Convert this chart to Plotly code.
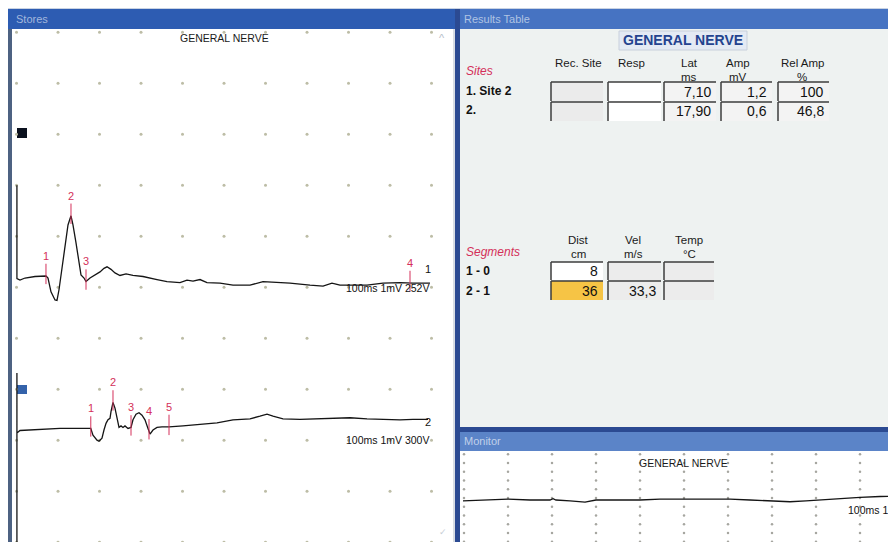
import numpy as np
import plotly.graph_objects as go

# page is 896x542; the html body has an 8 px margin, so the figure fills 8..896 x 8..542
PAGE_OFF = 8
W, H = 888, 534

# ------------------------------------------------------------------ data
TITLE = "GENERAL NERVE"

# Stores channel 1 (time ms, amplitude mV relative to baseline)
CH1_T = [0.1, 0.1, 0.84, 2.05, 4.46, 6.39, 7.11, 7.59, 8.31, 9.28, 9.76, 10.24, 10.96,
         11.69, 12.41, 13.13, 13.61, 14.34, 15.06, 15.54, 16.27, 16.75, 17.71, 18.92,
         20.12, 21.08, 21.81, 22.77, 23.73, 24.94, 26.39, 28.07, 30.48, 33.86, 36.27,
         39.40, 41.08, 42.53, 44.22, 45.90, 49.04, 52.17, 56.27, 59.40, 61.81, 65.90,
         70.72, 73.86, 76.02, 77.95, 81.08, 84.46, 88.31, 92.41, 95.54, 99.64]
CH1_MV = [1.80, -0.03, -0.06, -0.02, 0.01, 0.02, 0.02, -0.02, -0.29, -0.45, -0.46, -0.25,
          0.20, 0.67, 1.02, 1.20, 1.02, 0.67, 0.27, 0.04, -0.02, -0.09, -0.02, 0.04,
          0.10, 0.17, 0.20, 0.15, 0.08, 0.03, 0.06, 0.03, 0.01, -0.05, -0.09,
          -0.11, -0.06, -0.08, -0.05, -0.11, -0.12, -0.16, -0.16, -0.09, -0.10, -0.12,
          -0.16, -0.18, -0.12, -0.16, -0.16, -0.16, -0.12, -0.11, -0.12, -0.12]
CH1_MARKERS = [7.10, 13.13, 16.75, 94.82]

# Stores channel 2
CH2_T = [0.1, 0.1, 0.1, 0.84, 5.66, 10.48, 15.30, 17.90, 18.43, 19.40, 19.88, 20.60,
         21.08, 21.57, 22.05, 22.53, 22.77, 23.25, 23.73, 24.22, 24.70, 25.18, 25.66,
         26.14, 26.87, 27.59, 28.07, 28.80, 29.52, 30.24, 30.96, 31.69, 32.17, 32.89,
         33.86, 35.06, 36.75, 40.12, 44.22, 48.31, 52.17, 54.58, 56.27, 58.67, 60.36,
         61.81, 64.22, 68.31, 76.27, 80.36, 84.46, 88.31, 92.41, 95.54, 99.16]
CH2_MV = [1.12, -2.40, -0.06, -0.01, 0.01, 0.03, 0.03, 0.03, -0.10, -0.20, -0.22, -0.16,
          0.00, 0.13, 0.20, 0.23, 0.36, 0.54, 0.43, 0.20, 0.05, 0.08, 0.05,
          0.08, 0.03, 0.05, 0.20, 0.31, 0.34, 0.29, 0.20, 0.03, -0.08, 0.00,
          0.05, 0.06, 0.06, 0.08, 0.11, 0.14, 0.20, 0.21, 0.22, 0.27, 0.31,
          0.27, 0.22, 0.21, 0.23, 0.24, 0.22, 0.21, 0.20, 0.21, 0.21]
CH2_MARKERS = [17.90, 23.25, 27.59, 31.93, 36.75]

CH1_LABEL = "100ms 1mV 252V"
CH2_LABEL = "100ms 1mV 300V"

# Monitor
MON_T = [-0.23, 5.91, 10.0, 15.0, 19.55, 20.23, 20.9, 24.09, 27.5, 30.0, 35.45, 40.0,
         44.55, 53.64, 60.45, 65.0, 69.55, 74.09, 77.73, 83.18, 90.0, 94.55, 98.18]
MON_MV = [-0.02, 0.00, 0.02, 0.00, 0.00, 0.03, 0.00, -0.02, -0.05, 0.00, 0.00, 0.00,
          0.02, 0.02, 0.02, 0.00, -0.02, -0.04, -0.02, 0.02, 0.06, 0.08, 0.09]
MON_LABEL = "100ms 1m"   # visible part; the window cuts it at the right edge

# Results table
SITE_HEADERS = [("Rec. Site", ""), ("Resp", ""), ("Lat", "ms"), ("Amp", "mV"), ("Rel Amp", "%")]
SITE_LABELS = ["1. Site 2", "2."]
LAT_MS = [7.10, 17.90]
AMP_MV = [1.2, 0.6]
REL_AMP = [100, 46.8]
SEG_HEADERS = [("Dist", "cm"), ("Vel", "m/s"), ("Temp", "°C")]
SEG_LABELS = ["1 - 0", "2 - 1"]
DIST_CM = [8, 36]
VEL_MS = [None, 33.3]
TEMP_C = [None, None]

# ------------------------------------------------------------------ style / layout constants
FONT = "Liberation Sans, Arial, sans-serif"
RED = "#d4305a"
TRACE = "#151515"
DOT = "#bdbda6"
BAR_DARK = "#2d5cb2"
BAR_LIGHT = "#4673c2"
BORDER = "#2b4a92"
PANEL = "#eef2f1"

S_X0_PX, S_PX_PER_MS = 16.5, 4.15       # stores time axis (page px)
S_PX_PER_MV = 51.0
CH1_BASE_PX, CH2_BASE_PX = 277, 430
M_X0_PX, M_PX_PER_MS = 464, 4.4         # monitor time axis
M_BASE_PX, M_PX_PER_MV = 500, 43.75


def fx(x):
    return (x - PAGE_OFF) / W


def fy(y):
    return 1 - (y - PAGE_OFF) / H


shapes = []
annotations = []


def rect(x0, y0, x1, y1, fill, line=None, lw=0):
    shapes.append(dict(type="rect", xref="paper", yref="paper", x0=fx(x0), x1=fx(x1),
                       y0=fy(y1), y1=fy(y0), fillcolor=fill, layer="below",
                       line=dict(color=line or fill, width=lw)))


def seg(x0, y0, x1, y1, color, w=1.5):
    shapes.append(dict(type="line", xref="paper", yref="paper", x0=fx(x0), x1=fx(x1),
                       y0=fy(y0), y1=fy(y1), layer="below", line=dict(color=color, width=w)))


def text(x, y, s, size=12, color="#111", xanchor="center", bold=False, italic=False):
    if bold:
        s = "<b>" + s + "</b>"
    if italic:
        s = "<i>" + s + "</i>"
    annotations.append(dict(x=fx(x), y=fy(y), xref="paper", yref="paper", text=s,
                            showarrow=False, xanchor=xanchor, yanchor="middle",
                            font=dict(family=FONT, size=size, color=color)))


def fmt(v, d):
    if v is None:
        return ""
    if d is None:
        d = 0 if float(v).is_integer() else 1
    return f"{v:.{d}f}".replace(".", ",")


# ---- window chrome
rect(8, 8, 896, 9, "#c9d3e3")
rect(8, 9, 456, 29, BAR_DARK)                 # Stores title bar
rect(8, 29, 12, 542, "#4d6282")               # Stores left border
rect(12, 29, 453, 542, "#ffffff")             # Stores plot
rect(453, 29, 455, 542, "#d8dde4")
rect(455, 9, 460, 542, BORDER)                # separator
rect(460, 9, 896, 29, BAR_LIGHT)              # Results title bar
rect(460, 29, 896, 427, PANEL)                # Results body
rect(455, 427, 896, 432, BORDER)
rect(460, 432, 896, 451, "#5b84c8")           # Monitor title bar
rect(462, 451, 896, 542, "#ffffff")           # Monitor plot

text(14, 19, "Stores", 11, "#a3b7dc", "left")
text(462, 19, "Results Table", 11, "#b0c3e3", "left")
text(462, 441, "Monitor", 11, "#c0d0ea", "left")
text(442, 38, "^", 11, "#b5bcc8")
text(443, 532, "✓", 9, "#c8ced6")

# channel squares
rect(17, 128, 27, 138, "#0b111e")
rect(17, 385, 27, 394, "#3462aa")

text(224, 38, TITLE, 10.5, "#1a1a1a")
text(683, 463, TITLE, 10.5, "#1a1a1a")

# ---- results table
rect(619, 31, 747, 50, "#e4eaf4", "#c8d0dc", 1)
text(683, 40, TITLE, 14, "#24438f", bold=True)

HDR_X = [578, 631, 689, 738, 802]
for (h1, h2), hx in zip(SITE_HEADERS, HDR_X):
    text(hx, 63.5, h1, 11.5, "#1a1a1a")
    if h2:
        text(hx, 76.5, h2, 11.5, "#1a1a1a")
text(464, 71, "Sites", 12, RED, "left", italic=True)

COL_L = [551, 608, 664, 721, 778]
COL_R = [603, 661, 716, 772, 829]
ROW_T = [82, 102]
ROW_B = [101, 121]
site_vals = [[""] * 2, [""] * 2, [fmt(v, 2) for v in LAT_MS],
             [fmt(v, 1) for v in AMP_MV], [fmt(v, None) for v in REL_AMP]]
site_fill = ["#ebebeb", "#ffffff", "#f3f3f3", "#f3f3f3", "#f3f3f3"]
for r, lab in enumerate(SITE_LABELS):
    text(464, (ROW_T[r] + ROW_B[r]) / 2 - 1, lab, 12, "#111", "left", bold=True)
    for c in range(5):
        rect(COL_L[c], ROW_T[r], COL_R[c], ROW_B[r], site_fill[c])
        seg(COL_L[c], ROW_T[r], COL_R[c], ROW_T[r], "#3c3c3c", 1.5)
        seg(COL_L[c], ROW_T[r], COL_L[c], ROW_B[r], "#3c3c3c", 1.5)
        if site_vals[c][r]:
            text(COL_R[c] - 3, (ROW_T[r] + ROW_B[r]) / 2, site_vals[c][r], 14,
                 "#111", "right")

SEG_HDR_X = [578, 633, 689]
for (h1, h2), hx in zip(SEG_HEADERS, SEG_HDR_X):
    text(hx, 240, h1, 11.5, "#1a1a1a")
    text(hx, 253.5, h2, 11.5, "#1a1a1a")
text(464, 252, "Segments", 12, RED, "left", italic=True)

SEG_L = [551, 608, 664]
SEG_R = [603, 661, 714]
SROW_T = [262, 281]
SROW_B = [280, 300]
seg_vals = [[fmt(v, 0) for v in DIST_CM], [fmt(v, 1) for v in VEL_MS],
            [fmt(v, 1) for v in TEMP_C]]
seg_fill = [["#ffffff", "#f6c445"], ["#ececec", "#ececec"], ["#ececec", "#ececec"]]
for r, lab in enumerate(SEG_LABELS):
    text(464, (SROW_T[r] + SROW_B[r]) / 2, lab, 12, "#111", "left", bold=True)
    for c in range(3):
        rect(SEG_L[c], SROW_T[r], SEG_R[c], SROW_B[r], seg_fill[c][r])
        seg(SEG_L[c], SROW_T[r], SEG_R[c], SROW_T[r], "#3c3c3c", 1.5)
        seg(SEG_L[c], SROW_T[r], SEG_L[c], SROW_B[r], "#3c3c3c", 1.5)
        if seg_vals[c][r]:
            text(SEG_R[c] - 3, (SROW_T[r] + SROW_B[r]) / 2 + 0.5, seg_vals[c][r], 14,
                 "#111", "right")

# ------------------------------------------------------------------ traces
fig = go.Figure()

# stores grid dots (1 div = 10 ms x 1 mV)
gx, gy = np.meshgrid(np.arange(0, 101, 10), 0.8 + np.arange(-6, 5))
fig.add_trace(go.Scatter(x=gx.ravel(), y=gy.ravel(), mode="markers", xaxis="x", yaxis="y",
                         marker=dict(size=3, color=DOT), hoverinfo="skip"))

# monitor grid dots
mx, my = np.meshgrid(np.arange(0, 91, 10), 0.0457 + 0.2 * np.arange(-5, 6))
fig.add_trace(go.Scatter(x=mx.ravel(), y=my.ravel(), mode="markers", xaxis="x2", yaxis="y3",
                         marker=dict(size=2.5, color="#a6a6a0"), hoverinfo="skip"))


def marker_ticks(times, t, v, yaxis):
    xs, ys = [], []
    for i, m in enumerate(times):
        mv = float(np.interp(m, t, v))
        xs += [m, m, None]
        ys += [mv - 0.16, mv + 0.24, None]
        annotations.append(dict(x=m, y=mv + 0.24, xref="x", yref=yaxis, showarrow=False,
                                text=str(i + 1), xanchor="center",
                                yanchor="bottom", font=dict(family=FONT, size=11, color=RED)))
    fig.add_trace(go.Scatter(x=xs, y=ys, mode="lines", xaxis="x", yaxis=yaxis,
                             line=dict(color=RED, width=1), hoverinfo="skip"))


fig.add_trace(go.Scatter(x=CH1_T, y=CH1_MV, mode="lines", xaxis="x", yaxis="y",
                         line=dict(color=TRACE, width=1.3), hoverinfo="skip"))
fig.add_trace(go.Scatter(x=CH2_T, y=CH2_MV, mode="lines", xaxis="x", yaxis="y2",
                         line=dict(color=TRACE, width=1.3), hoverinfo="skip"))
marker_ticks(CH1_MARKERS, CH1_T, CH1_MV, "y")
marker_ticks(CH2_MARKERS, CH2_T, CH2_MV, "y2")

fig.add_trace(go.Scatter(x=MON_T, y=MON_MV, mode="lines", xaxis="x2", yaxis="y3",
                         line=dict(color=TRACE, width=1.3), hoverinfo="skip"))

# channel labels
annotations += [
    dict(x=99.2, y=0.16, xref="x", yref="y", text="1", showarrow=False, xanchor="center",
         font=dict(family=FONT, size=11, color="#111")),
    dict(x=99.9, y=-0.22, xref="x", yref="y", text=CH1_LABEL, showarrow=False,
         xanchor="right", font=dict(family=FONT, size=10.5, color="#111")),
    dict(x=99.2, y=0.16, xref="x", yref="y2", text="2", showarrow=False, xanchor="center",
         font=dict(family=FONT, size=11, color="#111")),
    dict(x=99.9, y=-0.20, xref="x", yref="y2", text=CH2_LABEL, showarrow=False,
         xanchor="right", font=dict(family=FONT, size=10.5, color="#111")),
    dict(x=(846 - M_X0_PX) / M_PX_PER_MS, y=(M_BASE_PX - 510) / M_PX_PER_MV, xref="x2",
         yref="y3", text=MON_LABEL, showarrow=False, xanchor="left",
         font=dict(family=FONT, size=10.5, color="#111")),
]

fig.update_layout(
    width=W, height=H, margin=dict(l=0, r=0, t=0, b=0),
    paper_bgcolor="#ffffff", plot_bgcolor="rgba(0,0,0,0)",
    showlegend=False, hovermode=False,
    shapes=shapes, annotations=annotations,
    xaxis=dict(domain=[fx(12), fx(453)], anchor="y", visible=False,
               range=[(12 - S_X0_PX) / S_PX_PER_MS, (453 - S_X0_PX) / S_PX_PER_MS]),
    yaxis=dict(domain=[0, fy(29)], anchor="x", visible=False,
               range=[-(542 - CH1_BASE_PX) / S_PX_PER_MV, (CH1_BASE_PX - 29) / S_PX_PER_MV]),
    yaxis2=dict(domain=[0, fy(29)], anchor="x", overlaying="y", visible=False,
                range=[-(542 - CH2_BASE_PX) / S_PX_PER_MV, (CH2_BASE_PX - 29) / S_PX_PER_MV]),
    xaxis2=dict(domain=[fx(462), 1], anchor="y3", visible=False,
                range=[(462 - M_X0_PX) / M_PX_PER_MS, (896 - M_X0_PX) / M_PX_PER_MS]),
    yaxis3=dict(domain=[0, fy(451)], anchor="x2", visible=False,
                range=[-(542 - M_BASE_PX) / M_PX_PER_MV, (M_BASE_PX - 451) / M_PX_PER_MV]),
)

fig.write_html("out.html")
